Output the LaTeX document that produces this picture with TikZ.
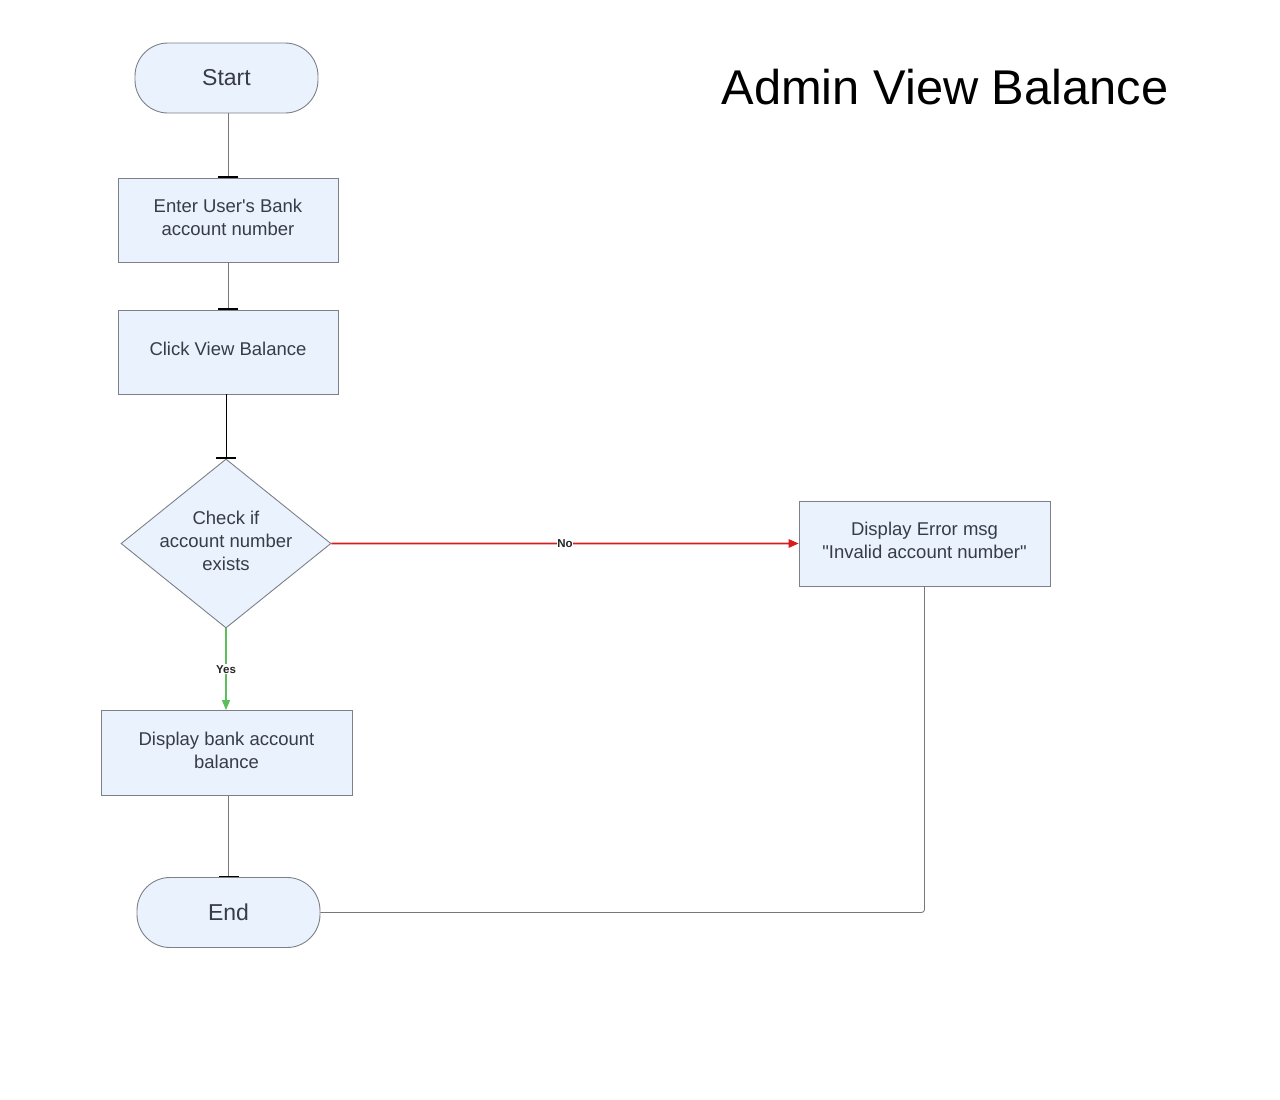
\documentclass[tikz,border=0pt]{standalone}
\usepackage{fontspec}
\setmainfont{Liberation Sans}
\newfontfamily\plainsans{Liberation Sans}
\usetikzlibrary{arrows.meta,shapes.geometric,calc}
\definecolor{boxfill}{RGB}{234,243,253}
\definecolor{boxline}{RGB}{125,128,135}
\definecolor{txt}{RGB}{55,60,72}
\definecolor{linegray}{RGB}{120,120,120}
\definecolor{errred}{RGB}{215,30,30}
\definecolor{okgreen}{RGB}{90,190,90}
\tikzset{
  base/.style={draw=boxline, fill=boxfill, line width=0.9pt, text=txt, align=center, inner sep=0pt},
  term/.style={base, rounded corners=33pt, minimum width=183pt, minimum height=70pt, font=\plainsans\fontsize{23}{27}\selectfont},
  procbox/.style={base, minimum width=220pt, minimum height=84pt},
  widebox/.style={base, minimum width=251pt, minimum height=85pt},
  decis/.style={base, diamond, minimum width=210pt, minimum height=169pt},
  txtlbl/.style={text=txt, align=center, inner sep=0pt, yshift=3pt, font=\plainsans\fontsize{18.5}{23}\selectfont},
  flow/.style={draw=linegray, line width=0.9pt, -{Bar[width=20pt,line width=1.4pt,black]}},
  lbl/.style={font=\plainsans\bfseries\fontsize{11.5}{13}\selectfont, text=black!85, fill=white, inner sep=1pt}
}
\begin{document}
\begin{tikzpicture}[x=1pt,y=-1pt]
\useasboundingbox (0,0) rectangle (1280,1100);
\node[font=\plainsans\fontsize{48.8}{56}\selectfont, text=black, anchor=base] (title) at (945,104) {Admin View Balance};

\node[term] (start) at (226.5,78) {\raisebox{1.5pt}{Start}};
\node[procbox, label={[txtlbl]center:{Enter User's Bank\\account number}}] (enter) at (228,220) {};
\node[procbox, label={[txtlbl]center:{Click View Balance}}] (click) at (228,352) {};
\node[decis, label={[txtlbl]center:{Check if\\account number\\exists}}] (check) at (226,543.5) {};
\node[widebox, label={[txtlbl]center:{Display Error msg\\"Invalid account number"}}] (err) at (924.5,543.5) {};
\node[widebox, label={[txtlbl]center:{Display bank account\\balance}}] (bal) at (226.5,753) {};
\node[term] (end) at (228.5,912.5) {\raisebox{1.5pt}{End}};

\draw[flow] (start.south -| enter.north) -- (enter.north);
\draw[flow] (enter) -- (click);
\draw[flow, draw=black] (click.south -| check.north) -- (check.north);
\draw[draw=okgreen, line width=1.1pt, -{Triangle[length=10pt,width=8pt]}] (check.south) -- node[lbl, pos=0.5] (yes) {Yes} (check.south |- bal.north);
\fill[errred] ($(check.east)+(0,-0.8)$) -- ($(err.west)+(-10,-0.8)$) -- ($(err.west)+(-10,-4.5)$) -- (err.west)
  -- ($(err.west)+(-10,4.5)$) -- ($(err.west)+(-10,0.8)$) -- ($(check.east)+(0,0.8)$) -- cycle;
\node[lbl, inner xsep=0.3pt] (no) at ($(check.east)!0.5!(err.west)$) {No};
\draw[flow] (bal.south -| end.north) -- (end.north);
\draw[draw=linegray, line width=0.9pt, rounded corners=3pt] (err.south) |- (end.east);
\end{tikzpicture}
\end{document}
